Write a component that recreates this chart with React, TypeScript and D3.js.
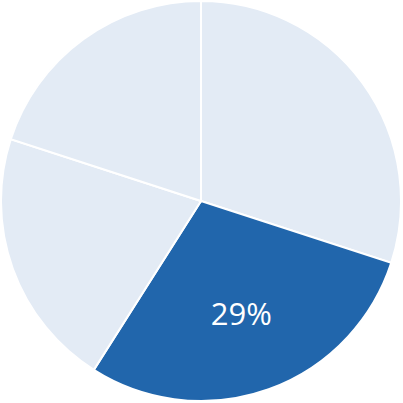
import React from "react";
import * as d3 from "d3";

const categories = ["A", "B", "C", "D"];
const values = [30, 29, 21, 20];
const highlighted = "B";

export default function App() {
  const W = 403, H = 403;
  const cx = 201, cy = 201, R = 200;
  const pie = d3.pie<number>().sort(null).value((d) => d);
  const arcs = pie(values);
  const arc = d3.arc<d3.PieArcDatum<number>>().innerRadius(0).outerRadius(R);
  const total = d3.sum(values);
  return (
    <svg width={W} height={H} style={{ position: "absolute", left: 0, top: 0 }}>
      <g transform={`translate(${cx},${cy})`}>
        {arcs.map((a, i) => (
          <path
            key={i}
            d={arc(a) || ""}
            fill={categories[i] === highlighted ? "#2166ac" : "#e3ebf5"}
            stroke="#ffffff"
            strokeWidth={2}
          />
        ))}
        {arcs.map((a, i) => {
          if (categories[i] !== highlighted) return null;
          const mid = (a.startAngle + a.endAngle) / 2;
          const r = 119;
          const x = Math.sin(mid) * r;
          const y = -Math.cos(mid) * r;
          return (
            <text
              key={"t" + i}
              x={x}
              y={y}
              textAnchor="middle"
              dominantBaseline="central"
              fill="#ffffff"
              style={{ fontFamily: "'Open Sans', sans-serif", fontSize: 31 }}
            >
              {Math.round((values[i] / total) * 100)}%
            </text>
          );
        })}
      </g>
    </svg>
  );
}
